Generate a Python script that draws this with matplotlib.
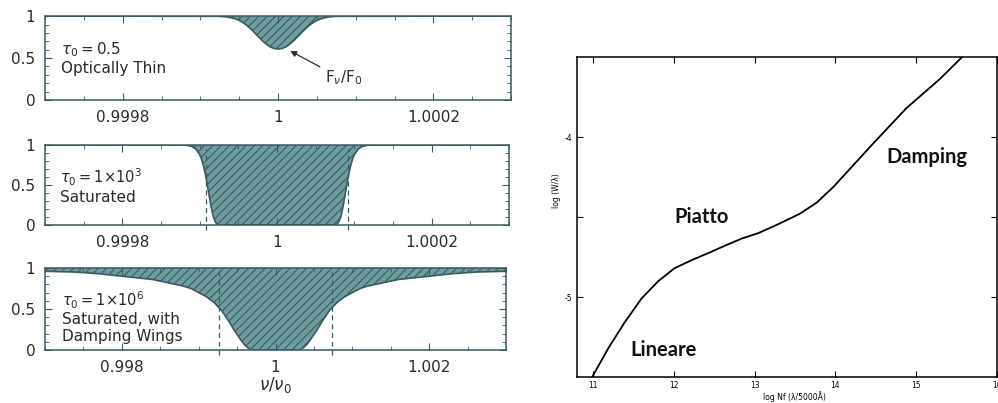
import matplotlib
matplotlib.use("Agg")
import matplotlib.pyplot as plt
import numpy as np
from matplotlib.ticker import MultipleLocator

plt.rcParams['hatch.linewidth'] = 0.8

# --- dati ---
# pannello 1: tau0 = 0.5 (offset in unita' di 1e-5)
off_thin = [-30, -8, -7.5, -7, -6.5, -6, -5.5, -5, -4.5, -4, -3.5, -3, -2.5, -2, -1.5, -1, -0.5, 0,
            0.5, 1, 1.5, 2, 2.5, 3, 3.5, 4, 4.5, 5, 5.5, 6, 6.5, 7, 7.5, 8, 30]
flux_thin = [1.0, 0.998, 0.997, 0.994, 0.989, 0.980, 0.967, 0.948, 0.922, 0.888, 0.846, 0.800, 0.752, 0.705,
             0.665, 0.633, 0.613, 0.607,
             0.613, 0.633, 0.665, 0.705, 0.752, 0.800, 0.846, 0.888, 0.922, 0.948, 0.967, 0.980, 0.989,
             0.994, 0.997, 0.998, 1.0]

# pannello 2: tau0 = 1e3 (offset in unita' di 1e-5)
off_sat = [-30, -12, -11.5, -11, -10.5, -10, -9.75, -9.5, -9.25, -9, -8.75, -8.5, -8.25, -8, -7.75, -7.5, -7,
           0, 7, 7.5, 7.75, 8, 8.25, 8.5, 8.75, 9, 9.25, 9.5, 9.75, 10, 10.5, 11, 11.5, 12, 30]
flux_sat = [1.0, 1.0, 0.993, 0.981, 0.950, 0.880, 0.819, 0.736, 0.627, 0.495, 0.351, 0.216, 0.106, 0.040,
            0.010, 0.002, 0.0,
            0.0, 0.0, 0.002, 0.010, 0.040, 0.106, 0.216, 0.351, 0.495, 0.627, 0.736, 0.819, 0.880, 0.950,
            0.981, 0.993, 1.0, 1.0]
dash_sat = [-9.2, 9.2]

# pannello 3: tau0 = 1e6, ali di damping (offset in unita' di 1e-4)
off_damp = [-30, -26, -23, -20, -18, -16, -14, -12, -11, -10, -9, -8, -7.5, -7, -6.5, -6, -5.5, -5, -4.5,
            -4, -3.75, -3.5, -3.25, -3, 0, 3, 3.25, 3.5, 3.75, 4, 4.5, 5, 5.5, 6, 6.5, 7, 7.5, 8, 9, 10,
            11, 12, 14, 16, 18, 20, 23, 26, 30]
flux_damp = [0.96, 0.95, 0.93, 0.90, 0.88, 0.86, 0.82, 0.78, 0.75, 0.70, 0.65, 0.58, 0.53, 0.48, 0.41,
             0.34, 0.26, 0.19, 0.12, 0.06, 0.04, 0.02, 0.006, 0.0, 0.0, 0.0, 0.006, 0.02, 0.04, 0.06,
             0.12, 0.19, 0.26, 0.34, 0.41, 0.48, 0.53, 0.58, 0.65, 0.70, 0.75, 0.78, 0.82, 0.86, 0.88,
             0.90, 0.93, 0.95, 0.96]
dash_damp = [-7.3, 7.3]

# curva di crescita
log_nf = [10.99, 11.19, 11.39, 11.60, 11.81, 12.01, 12.22, 12.43, 12.63, 12.84, 13.05, 13.25, 13.56,
          13.77, 13.98, 14.18, 14.47, 14.88, 15.30, 15.57]
log_w = [-5.50, -5.32, -5.16, -5.01, -4.90, -4.82, -4.77, -4.725, -4.68, -4.635, -4.60, -4.555, -4.48,
         -4.41, -4.31, -4.20, -4.04, -3.82, -3.635, -3.50]

frame_col = '#3b5a60'
text_col = '#2a2a2a'
fill_col = '#6f9c9e'
hatch_col = '#365e62'

fig = plt.figure(figsize=(9.98, 4.03), dpi=100)


def pannello(rect, off, flux, scale, xlim, xticks, xlabels, xminor, dashes=None):
    ax = fig.add_axes(rect)
    x = 1 + np.array(off) * scale
    ax.fill_between(x, flux, 1, facecolor=fill_col, edgecolor=hatch_col, hatch='////', linewidth=0)
    ax.plot(x, flux, color=frame_col, lw=1.2)
    if dashes:
        for d in dashes:
            ax.plot([1 + d * scale] * 2, [-0.06, 0.95], color=frame_col, lw=0.9, ls=(0, (4, 3)),
                    clip_on=False)
    ax.set_xlim(*xlim)
    ax.set_ylim(0, 1)
    ax.set_xticks(xticks)
    ax.set_xticklabels(xlabels)
    ax.set_yticks([0, 0.5, 1])
    ax.set_yticklabels(['0', '0.5', '1'])
    ax.xaxis.set_minor_locator(MultipleLocator(xminor))
    ax.yaxis.set_minor_locator(MultipleLocator(0.1))
    ax.tick_params(which='both', direction='in', top=True, right=True, colors=frame_col,
                   labelcolor=text_col, labelsize=11, pad=7)
    ax.tick_params(which='major', length=5)
    ax.tick_params(which='minor', length=3)
    for s in ax.spines.values():
        s.set_color(frame_col)
        s.set_linewidth(1.1)
    return ax


ax1 = pannello([0.0451, 0.752, 0.467, 0.208], off_thin, flux_thin, 1e-5, (0.9997, 1.0003),
               [0.9998, 1, 1.0002], ['0.9998', '1', '1.0002'], 0.00005)
ax1.text(0.99972, 0.6, r'$\tau_0 = 0.5$', fontsize=11, color=text_col, va='center')
ax1.text(0.99972, 0.38, 'Optically Thin', fontsize=11, color=text_col, va='center')
ax1.text(1.000061, 0.26, r'$\mathrm{F}_\nu/\mathrm{F}_0$', fontsize=11, color=text_col, va='center')
ax1.annotate('', xy=(1.0000125, 0.6), xytext=(1.000057, 0.38),
             arrowprops=dict(arrowstyle='-|>', color=text_col, lw=0.9, mutation_scale=9))

ax2 = pannello([0.0451, 0.4417, 0.465, 0.1985], off_sat, flux_sat, 1e-5, (0.9997, 1.0003),
               [0.9998, 1, 1.0002], ['0.9998', '1', '1.0002'], 0.00005, dash_sat)
ax2.text(0.99972, 0.60, r'$\tau_0 = 1{\times}10^3$', fontsize=10.5, color=text_col, va='center')
ax2.text(0.99972, 0.34, 'Saturated', fontsize=11, color=text_col, va='center')

ax3 = pannello([0.0451, 0.1315, 0.462, 0.2035], off_damp, flux_damp, 1e-4, (0.997, 1.003),
               [0.998, 1, 1.002], ['0.998', '1', '1.002'], 0.0005, dash_damp)
ax3.text(0.99722, 0.6, r'$\tau_0 = 1{\times}10^6$', fontsize=10.5, color=text_col, va='center')
ax3.text(0.99722, 0.37, 'Saturated, with', fontsize=11, color=text_col, va='center')
ax3.text(0.99722, 0.17, 'Damping Wings', fontsize=11, color=text_col, va='center')
ax3.set_xlabel(r'$\nu/\nu_0$', fontsize=12, color=text_col, labelpad=0)

# curva di crescita
ax4 = fig.add_axes([0.578, 0.0645, 0.4208, 0.794])
ax4.plot(log_nf, log_w, color='black', lw=1.3)
ax4.set_xlim(10.8, 16.0)
ax4.set_ylim(-5.5, -3.5)
ax4.set_xticks([11, 12, 13, 14, 15, 16])
ax4.set_yticks([-5, -4.5, -4])
ax4.set_yticklabels(['-5', '', '-4'])
ax4.tick_params(direction='in', top=True, right=True, length=4, labelsize=5.5, pad=3, width=0.8)
for s in ax4.spines.values():
    s.set_linewidth(1.1)
ax4.set_xlabel('log Nf (λ/5000Å)', fontsize=5.5)
ax4.set_ylabel('log (W/λ)', fontsize=5.5)
ax4.xaxis.set_label_coords(0.519, -0.045)
ax4.yaxis.set_label_coords(-0.038, 0.584)
for lab, xx, yy in [('Piatto', 12.35, -4.5), ('Damping', 15.13, -4.125), ('Lineare', 11.87, -5.333)]:
    ax4.text(xx, yy, lab, fontsize=14.5, fontweight='bold', family='Lato', ha='center', va='center',
             color='#111111')

fig.savefig('out.png', dpi=100)
